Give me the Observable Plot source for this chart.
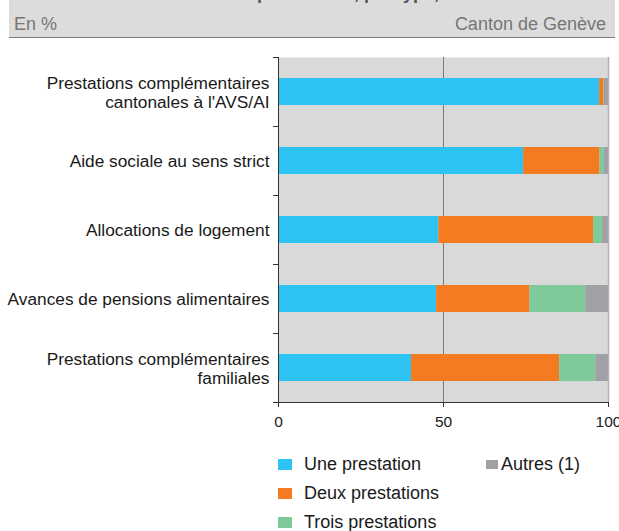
<!DOCTYPE html>
<html>
<head>
<meta charset="utf-8">
<script src="https://cdn.jsdelivr.net/npm/d3@7"></script>
<script src="https://cdn.jsdelivr.net/npm/@observablehq/plot@0.6"></script>
<style>
  html, body { margin: 0; padding: 0; background: #fff; }
  body { width: 619px; height: 531px; position: relative; overflow: hidden; font-family: "Liberation Sans", Arial, sans-serif; }
  #header { position: absolute; left: 9px; top: 0; width: 606px; height: 37px; background: #dcdcdc; border-bottom: 1.5px solid #7a7a7a; overflow: hidden; }
  #title { position: absolute; left: 0; right: 0; top: -16px; text-align: center; font-weight: bold; font-size: 18px; line-height: 18px; color: #555; white-space: nowrap; }
  #sub-left { position: absolute; left: 5px; top: 15px; font-size: 18px; line-height: 18px; color: #767676; }
  #sub-right { position: absolute; right: 9px; top: 15px; font-size: 18px; line-height: 18px; color: #767676; }
  #chart { position: absolute; left: 0; top: 0; }
  .leg { position: absolute; font-size: 18px; line-height: 18px; color: #1a1a1a; white-space: nowrap; }
  .sw { position: absolute; }
</style>
</head>
<body>
<div id="header">
  <div id="title"></div>
  <div id="sub-left"></div>
  <div id="sub-right"></div>
</div>
<div id="chart"></div>
<div id="legend"></div>
<script>
const titleText = "Bénéficiaires de prestations, par type, en 2019";
const unitText = "En %";
const regionText = "Canton de Genève";

const cats = [
  "Prestations complémentaires\ncantonales à l'AVS/AI",
  "Aide sociale au sens strict",
  "Allocations de logement",
  "Avances de pensions alimentaires",
  "Prestations complémentaires\nfamiliales"
];
const series = ["Une prestation", "Deux prestations", "Trois prestations", "Autres (1)"];
const colors = ["#2dc4f4", "#f47b20", "#80c99b", "#a0a1a5"];

const une    = [97.3, 74.3, 48.6, 47.9, 40.3];
const deux   = [1.3, 23.1, 46.9, 28.3, 44.9];
const trois  = [0.1, 1.3, 2.7, 16.9, 11.0];
const autres = [1.3, 1.3, 1.8, 6.9, 3.8];
const xTicks = [0, 50, 100];

const values = [une, deux, trois, autres];
const data = [];
series.forEach((s, si) => cats.forEach((c, ci) => data.push({cat: c, series: s, value: values[si][ci]})));

document.getElementById("title").textContent = titleText;
document.getElementById("sub-left").textContent = unitText;
document.getElementById("sub-right").textContent = regionText;

const chart = Plot.plot({
  width: 619,
  height: 440,
  marginTop: 57,
  marginBottom: 38,
  marginLeft: 278,
  marginRight: 11,
  style: {fontFamily: "'Liberation Sans', Arial, sans-serif", fontSize: "16px", color: "#1a1a1a", background: "transparent", overflow: "visible"},
  x: {domain: [0, 100], axis: null, label: null},
  y: {domain: cats, paddingInner: 0.61, paddingOuter: 0.305, axis: null, label: null},
  color: {domain: series, range: colors},
  marks: [
    Plot.frame({fill: "#d9d9d9"}),
    Plot.ruleX([50], {stroke: "#7a7a7a", strokeWidth: 1}),
    Plot.barX(data, {y: "cat", x: "value", fill: "series"}),
    Plot.ruleX([100], {stroke: "#b0b0b0", strokeWidth: 1.5}),
    Plot.ruleX([0], {stroke: "#333", strokeWidth: 1}),
    Plot.frame({anchor: "bottom", stroke: "#333"}),
    Plot.axisX({ticks: xTicks, tickSize: 5, tickPadding: 8, fontSize: 15.5, stroke: "#333", fill: "#1a1a1a", label: null}),
    Plot.axisY({tickSize: 0, tickPadding: 9, fontSize: 17.3, lineHeight: 1.1, fill: "#1a1a1a", label: null}),
    Plot.axisY({tickSize: 5, tickFormat: null, dy: 34.5, stroke: "#333", label: null}),
    Plot.axisY({ticks: [cats[0]], tickSize: 5, tickFormat: null, dy: -34.5, stroke: "#333", label: null})
  ]
});
document.getElementById("chart").appendChild(chart);

// legend
const legend = document.getElementById("legend");
const legPos = [
  {sx: 278, sy: 459, sw: 14, sh: 11, tx: 304, ty: 455},
  {sx: 278, sy: 488, sw: 14, sh: 11, tx: 304, ty: 484},
  {sx: 278, sy: 517, sw: 14, sh: 11, tx: 304, ty: 513},
  {sx: 486, sy: 460, sw: 12, sh: 9, tx: 501, ty: 455}
];
series.forEach((s, i) => {
  const p = legPos[i];
  const sw = document.createElement("div");
  sw.className = "sw";
  Object.assign(sw.style, {left: p.sx + "px", top: p.sy + "px", width: p.sw + "px", height: p.sh + "px", background: colors[i]});
  legend.appendChild(sw);
  const t = document.createElement("div");
  t.className = "leg";
  t.style.left = p.tx + "px";
  t.style.top = p.ty + "px";
  t.textContent = s;
  legend.appendChild(t);
});
</script>
</body>
</html>
